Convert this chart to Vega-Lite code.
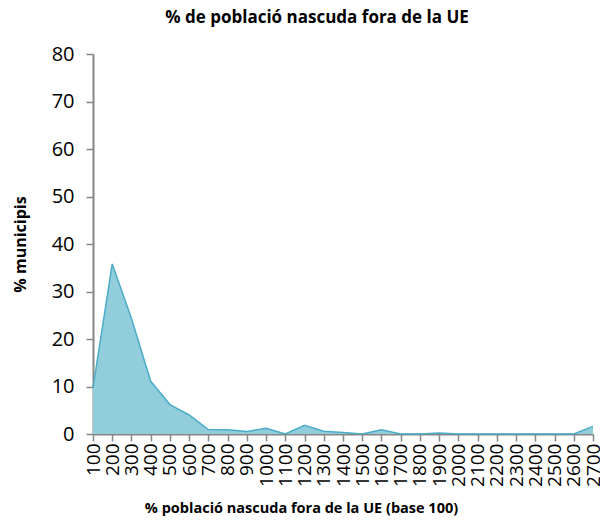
{
  "$schema": "https://vega.github.io/schema/vega-lite/v6.json",
  "autosize": {"type": "none"},
  "width": 500,
  "height": 380,
  "padding": {"left": 93, "top": 54, "right": 7, "bottom": 92},
  "background": "white",
  "title": {
    "text": "% de població nascuda fora de la UE",
    "font": "Open Sans",
    "fontSize": 17,
    "fontWeight": "bold",
    "color": "#000000",
    "anchor": "middle",
    "frame": "group",
    "dx": -26,
    "offset": 17
  },
  "data": {
    "values": [
      {"base": "100", "pct": 9.7},
      {"base": "200", "pct": 35.8},
      {"base": "300", "pct": 24.3},
      {"base": "400", "pct": 11.1},
      {"base": "500", "pct": 6.2},
      {"base": "600", "pct": 4.0},
      {"base": "700", "pct": 0.95},
      {"base": "800", "pct": 0.9},
      {"base": "900", "pct": 0.55},
      {"base": "1000", "pct": 1.2},
      {"base": "1100", "pct": 0.0},
      {"base": "1200", "pct": 1.85},
      {"base": "1300", "pct": 0.6},
      {"base": "1400", "pct": 0.3},
      {"base": "1500", "pct": 0.0},
      {"base": "1600", "pct": 0.9},
      {"base": "1700", "pct": 0.0},
      {"base": "1800", "pct": 0.0},
      {"base": "1900", "pct": 0.2},
      {"base": "2000", "pct": 0.0},
      {"base": "2100", "pct": 0.0},
      {"base": "2200", "pct": 0.0},
      {"base": "2300", "pct": 0.0},
      {"base": "2400", "pct": 0.0},
      {"base": "2500", "pct": 0.0},
      {"base": "2600", "pct": 0.0},
      {"base": "2700", "pct": 1.6}
    ]
  },
  "mark": {
    "type": "area",
    "color": "#92CDDC",
    "opacity": 1,
    "line": {"color": "#4BACC6", "strokeWidth": 1.5}
  },
  "encoding": {
    "x": {
      "field": "base",
      "type": "ordinal",
      "sort": null,
      "scale": {"type": "point", "padding": 0},
      "axis": {
        "title": "% població nascuda fora de la UE (base 100)",
        "titleFont": "Open Sans",
        "titleFontSize": 14.5,
        "titleFontWeight": "bold",
        "titleColor": "#000000",
        "titlePadding": 15,
        "titleX": 208,
        "titleAnchor": "middle",
        "labelFont": "Open Sans",
        "labelFontSize": 19,
        "labelColor": "#000000",
        "labelAngle": 270,
        "labelPadding": 2,
        "labelOverlap": false,
        "domainColor": "#868686",
        "domainWidth": 2,
        "tickColor": "#868686",
        "tickSize": 7,
        "tickWidth": 1.5,
        "grid": false
      }
    },
    "y": {
      "field": "pct",
      "type": "quantitative",
      "scale": {"domain": [0, 80], "nice": false},
      "axis": {
        "title": "% municipis",
        "values": [0, 10, 20, 30, 40, 50, 60, 70, 80],
        "titleFont": "Open Sans",
        "titleFontSize": 16,
        "titleFontWeight": "bold",
        "titleColor": "#000000",
        "titlePadding": 23,
        "labelFont": "Open Sans",
        "labelFontSize": 20,
        "labelColor": "#000000",
        "labelPadding": 12,
        "domainColor": "#868686",
        "domainWidth": 2,
        "tickColor": "#868686",
        "tickSize": 7,
        "tickWidth": 1.5,
        "grid": false
      }
    }
  },
  "config": {"view": {"stroke": null}}
}
